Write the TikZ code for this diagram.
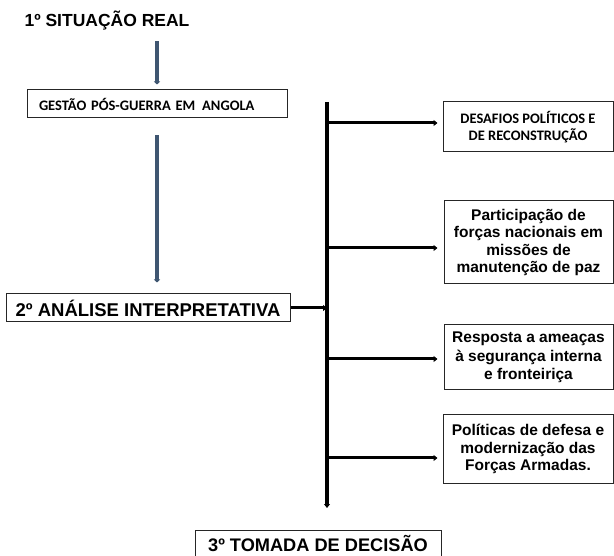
\documentclass[tikz,border=0pt]{standalone}
\usepackage{fontspec}
\usepackage{xcolor}
\usetikzlibrary{arrows.meta}
\newfontfamily\arialf{Liberation Sans}
\newfontfamily\calibf{Carlito}
\definecolor{setaazul}{RGB}{79,108,141}

\begin{document}
\begin{tikzpicture}[x=1pt,y=-1pt,
		caixa/.style={draw=black!85,line width=1pt,inner sep=0pt,align=center},
		titulo/.style={font=\arialf\bfseries\fontsize{18.5}{21}\selectfont},
		texto/.style={font=\arialf\bfseries\fontsize{15.5}{17.5}\selectfont},
		setaazul/.style={draw=setaazul!80!black,line width=3.5pt,-{Triangle[length=3pt,width=6pt]}},
		setapreta/.style={line width=3pt,-{Triangle[length=4pt,width=6pt]}}]
		\useasboundingbox (0,0) rectangle (614,556);

		% coluna da esquerda
		\node[font=\arialf\bfseries\fontsize{17.5}{20}\selectfont] (situacao) at (107,21) {1º SITUAÇÃO REAL};
		\node[caixa,minimum width=260pt,minimum height=28pt,text width=236pt,inner xsep=12pt,align=left,
			font=\calibf\bfseries\fontsize{14.5}{17}\selectfont] (gestao) at (157,104) {GESTÃO PÓS-GUERRA EM\hspace{2pt} ANGOLA};
		\node[caixa,titulo,minimum width=284pt,minimum height=28pt] (analise) at (148,308) {2º ANÁLISE INTERPRETATIVA};
		\node[caixa,titulo,minimum width=246pt,minimum height=28pt,font=\arialf\bfseries\fontsize{18.2}{21}\selectfont] (decisao) at (318,544) {3º TOMADA DE DECISÃO};

		\draw[setaazul,shorten <=7pt,shorten >=5pt] (gestao.north |- situacao.south) -- (gestao.north);
		\draw[setaazul,shorten <=17pt,shorten >=11pt] (gestao.south) -- (gestao.south |- analise.north);

		% eixo vertical
		\coordinate (topo) at (327,102);
		\coordinate (base) at (327,508);
		\draw[setapreta,line width=3.8pt] (topo) -- (base);
		\draw[setapreta] (analise.east) -- (analise.east -| topo);

		% caixas da direita
		\node[caixa,minimum width=170pt,minimum height=50pt,font=\calibf\bfseries\fontsize{14.5}{17}\selectfont] (desafios) at (528,127)
			{DESAFIOS POLÍTICOS E\\DE RECONSTRUÇÃO};
		\node[caixa,texto,minimum width=169pt,minimum height=83pt] (missoes) at (528.5,242.5)
			{Participação de\\forças nacionais em\\missões de\\manutenção de paz};
		\node[caixa,texto,minimum width=169pt,minimum height=65pt,font=\arialf\bfseries\fontsize{15.5}{18.5}\selectfont] (ameacas) at (528.5,357.5)
			{Resposta a ameaças\\à segurança interna\\e fronteiriça};
		\node[caixa,texto,minimum width=170pt,minimum height=68pt] (defesa) at (528,449)
			{Políticas de defesa e\\modernização das\\Forças Armadas.};

		\coordinate (r1) at (329,123);
		\coordinate (r2) at (329,248);
		\coordinate (r3) at (329,359);
		\coordinate (r4) at (329,458);
		\draw[setapreta,shorten >=5pt] (r1) -- (r1 -| desafios.west);
		\draw[setapreta,shorten >=6pt] (r2) -- (r2 -| missoes.west);
		\draw[setapreta,shorten >=6pt] (r3) -- (r3 -| ameacas.west);
		\draw[setapreta,shorten >=5pt] (r4) -- (r4 -| defesa.west);
\end{tikzpicture}
\end{document}
